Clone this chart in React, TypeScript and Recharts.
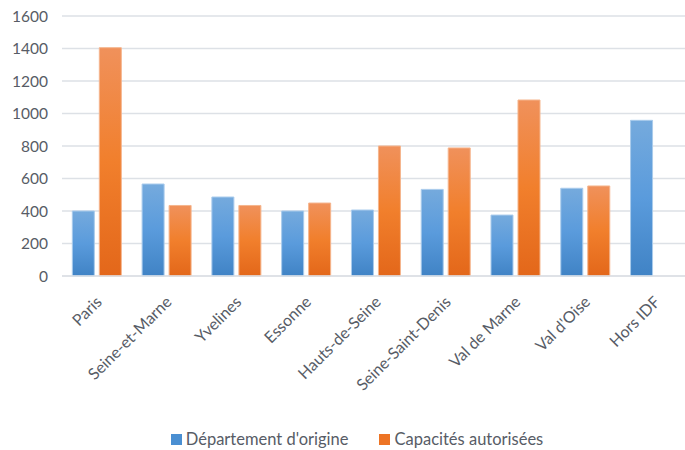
import { BarChart, Bar, XAxis, YAxis, CartesianGrid, Legend } from "recharts";

// departements (x axis)
const departements = [
  "Paris",
  "Seine-et-Marne",
  "Yvelines",
  "Essonne",
  "Hauts-de-Seine",
  "Seine-Saint-Denis",
  "Val de Marne",
  "Val d'Oise",
  "Hors IDF",
];

// series values
const origine = [400, 566, 486, 400, 406, 533, 375, 540, 958];
const capacites = [1405, 434, 434, 449, 800, 788, 1083, 554, 0];

const yTicks = [0, 200, 400, 600, 800, 1000, 1200, 1400, 1600];

const SERIES_ORIGINE = "Département d'origine";
const SERIES_CAPACITES = "Capacités autorisées";

const data = departements.map((name, i) => ({
  name,
  origine: origine[i],
  capacites: capacites[i],
}));

const FONT = "Lato, 'Noto Sans', sans-serif";
const TEXT = "#575c66";

// rotated category label, anchored at its end like Excel does
const AngledTick = ({ x, y, payload }: any) => (
  <g transform={`translate(${x + 6},${y + 19})`}>
    <text
      textAnchor="end"
      transform="rotate(-45)"
      fill={TEXT}
      fontSize={16}
      fontFamily={FONT}
    >
      {payload.value}
    </text>
  </g>
);

const renderLegend = () => (
  <div
    style={{
      display: "flex",
      justifyContent: "center",
      alignItems: "center",
      paddingLeft: 24,
      fontFamily: FONT,
      fontSize: 16.5,
      color: TEXT,
      height: 30,
      position: "relative",
      top: 4,
    }}
  >
    <span style={{ display: "flex", alignItems: "center", marginRight: 31 }}>
      <span style={{ width: 11, height: 11, background: "#4a8fd2", marginRight: 4 }} />
      {SERIES_ORIGINE}
    </span>
    <span style={{ display: "flex", alignItems: "center" }}>
      <span style={{ width: 11, height: 11, background: "#ed7425", marginRight: 4 }} />
      {SERIES_CAPACITES}
    </span>
  </div>
);

export default function App() {
  return (
    <div style={{ position: "absolute", left: 0, top: 0, width: 685, height: 450, overflow: "hidden", background: "#fff" }}>
      <BarChart
        width={692}
        height={450}
        data={data}
        margin={{ top: 16, right: 2, left: 0, bottom: 0 }}
        barCategoryGap="14.8%"
        barGap={5}
      >
        <defs>
          <linearGradient id="gradBlue" x1="0" y1="0" x2="0" y2="1">
            <stop offset="0%" stopColor="#75aadd" />
            <stop offset="50%" stopColor="#5a9bdc" />
            <stop offset="100%" stopColor="#4083c5" />
          </linearGradient>
          <linearGradient id="gradOrange" x1="0" y1="0" x2="0" y2="1">
            <stop offset="0%" stopColor="#f0915b" />
            <stop offset="50%" stopColor="#f17f2c" />
            <stop offset="100%" stopColor="#e3671a" />
          </linearGradient>
        </defs>
        <CartesianGrid vertical={false} stroke="#dde1e6" strokeWidth={1.3} />
        <XAxis
          dataKey="name"
          interval={0}
          height={144}
          tickLine={false}
          axisLine={{ stroke: "#dde1e6", strokeWidth: 1.3 }}
          tick={<AngledTick />}
        />
        <YAxis
          width={62}
          domain={[0, 1600]}
          ticks={yTicks}
          axisLine={false}
          tickLine={false}
          tickMargin={8}
          tick={{ fill: TEXT, fontSize: 15.5, fontFamily: FONT }}
        />
        <Legend verticalAlign="bottom" content={renderLegend} />
        <Bar
          dataKey="origine"
          name={SERIES_ORIGINE}
          fill="url(#gradBlue)"
          stroke="#a9cbec"
          strokeWidth={1}
          isAnimationActive={false}
        />
        <Bar
          dataKey="capacites"
          name={SERIES_CAPACITES}
          fill="url(#gradOrange)"
          stroke="#f5b58d"
          strokeWidth={1}
          isAnimationActive={false}
        />
      </BarChart>
    </div>
  );
}
